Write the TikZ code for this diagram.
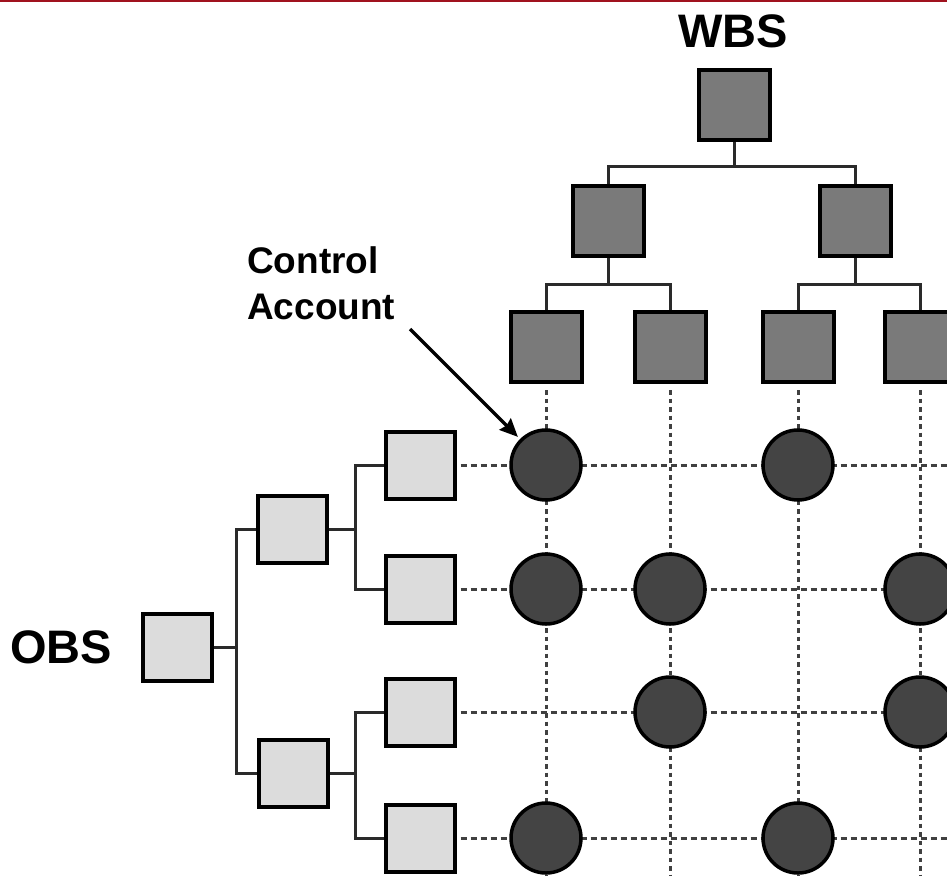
\documentclass[tikz,border=0pt]{standalone}
\usepackage{fontspec}
\setmainfont{Liberation Sans}
\usetikzlibrary{arrows.meta}
\definecolor{wbsgray}{HTML}{7A7A7A}
\definecolor{obsgray}{HTML}{DCDCDC}
\definecolor{cagray}{HTML}{444444}
\definecolor{gridgray}{HTML}{404040}
\definecolor{linkgray}{HTML}{2A2A2A}
\definecolor{topred}{HTML}{A0121E}
\begin{document}
\begin{tikzpicture}[x=1pt,y=-1pt,
  wbsbox/.style={draw=black, line width=4pt, fill=wbsgray, minimum width=71pt, minimum height=70pt, inner sep=0pt},
  obsbox/.style={draw=black, line width=4pt, fill=obsgray, minimum width=69pt, minimum height=67pt, inner sep=0pt},
  account/.style={circle, draw=black, line width=3.5pt, fill=cagray, minimum size=70pt, inner sep=0pt},
  link/.style={draw=linkgray, line width=3pt},
  hgrid/.style={draw=gridgray, line width=3pt, dash pattern=on 6pt off 4pt},
  vgrid/.style={draw=gridgray, line width=3pt, dash pattern=on 4.5pt off 4pt},
  title/.style={font=\fontsize{47}{47}\selectfont\bfseries, inner sep=0pt},
  note/.style={font=\fontsize{37}{46}\selectfont\bfseries, inner sep=0pt, align=left},
]
\useasboundingbox (0,0) rectangle (947,876);
\clip (0,0) rectangle (947,876);
\fill[topred] (0,0) rectangle (947,2);

% picture edges, used as free ends of the grid lines
\coordinate (redge) at (947,0);
\coordinate (bedge) at (0,876);

% WBS tree
\node[wbsbox] (w0) at (734,105) {};
\node[wbsbox] (w1) at (608,221) {};
\node[wbsbox] (w2) at (855,221) {};
\node[wbsbox] (w3) at (546,347) {};
\node[wbsbox] (w4) at (670,347) {};
\node[wbsbox] (w5) at (798,347) {};
\node[wbsbox] (w6) at (920,347) {};
\coordinate (wbus0) at (734,166);
\coordinate (wbus1) at (608,284);
\coordinate (wbus2) at (855,284);

% OBS tree
\node[obsbox] (o0) at (177,647) {};
\node[obsbox] (o1) at (292,529) {};
\node[obsbox] (o2) at (293,773) {};
\node[obsbox] (o3) at (420,465) {};
\node[obsbox] (o4) at (420,589) {};
\node[obsbox] (o5) at (420,712) {};
\node[obsbox] (o6) at (420,838) {};
\coordinate (obus0) at (236,647);
\coordinate (obus1) at (355,529);
\coordinate (obus2) at (355,773);

% responsibility grid
\foreach \r in {o3,o4,o5,o6}
  \draw[hgrid] ([xshift=4pt]\r.east) -- (\r -| redge);
\foreach \c in {w3,w4,w5,w6}
  \draw[vgrid] ([yshift=-6pt]\c.south) -- (\c |- bedge);

% tree links
\draw[link] (w0.south) -- (wbus0);
\draw[link] (w1.north) |- (wbus0);
\draw[link] (w2.north) |- (wbus0);
\draw[link] (w1.south) -- (wbus1);
\draw[link] (w3.north) |- (wbus1);
\draw[link] (w4.north) |- (wbus1);
\draw[link] (w2.south) -- (wbus2);
\draw[link] (w5.north) |- (wbus2);
\draw[link] (w6.north) |- (wbus2);

\draw[link] (o0.east) -- (obus0);
\draw[link] (o1.west) -| (obus0);
\draw[link] (o2.west) -| (obus0);
\draw[link] (o1.east) -- (obus1);
\draw[link] (o3.west) -| (obus1);
\draw[link] (o4.west) -| (obus1);
\draw[link] (o2.east) -- (obus2);
\draw[link] (o5.west) -| (obus2);
\draw[link] (o6.west) -| (obus2);

% control accounts at the grid crossings
\node[account] (a11) at (w3 |- o3) {};
\node[account] (a13) at (w5 |- o3) {};
\node[account] (a21) at (w3 |- o4) {};
\node[account] (a22) at (w4 |- o4) {};
\node[account] (a24) at (w6 |- o4) {};
\node[account] (a32) at (w4 |- o5) {};
\node[account] (a34) at (w6 |- o5) {};
\node[account] (a41) at (w3 |- o6) {};
\node[account] (a43) at (w5 |- o6) {};

% labels
\node[title] (wbs) at (733,31) {WBS};
\node[title] (obs) at (61,647) {OBS};
\node[note, anchor=north west] (ca) at (247,246) {Control\\Account};
\coordinate (castart) at (410,329);
\draw[line width=3.5pt, -{Stealth[length=18pt,width=16pt,inset=2pt]}, shorten >=3pt] (castart) -- (a11.135);
\end{tikzpicture}
\end{document}
